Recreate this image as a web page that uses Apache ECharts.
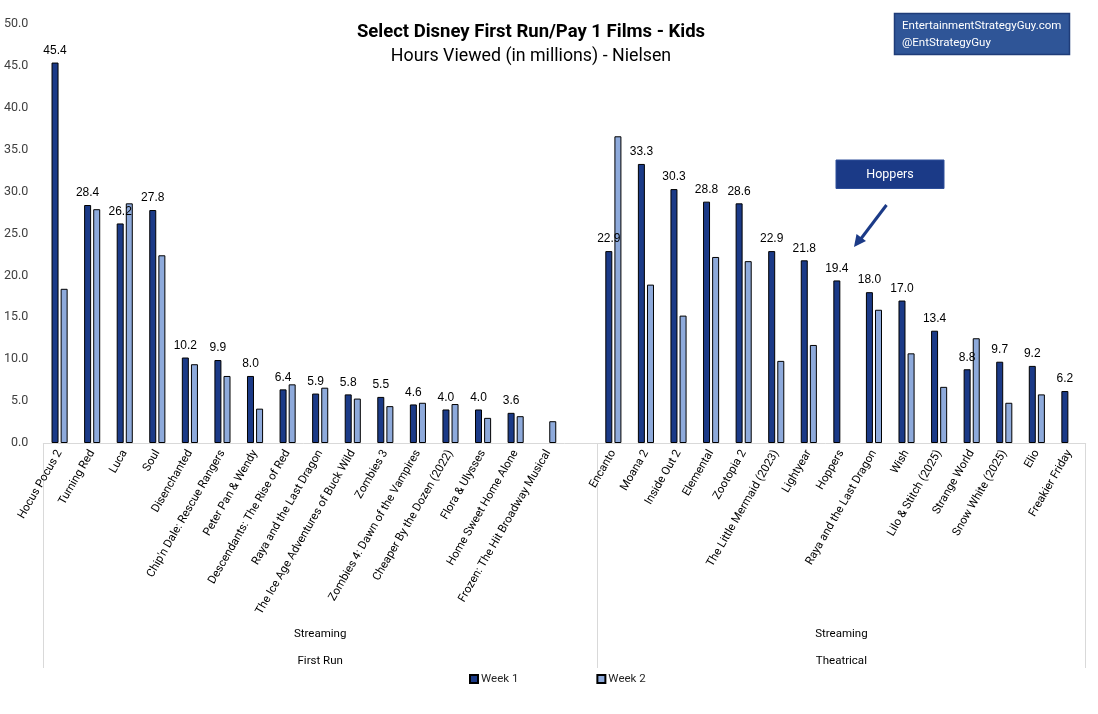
<!DOCTYPE html>
<html>
<head>
<meta charset="utf-8">
<script src="https://cdn.jsdelivr.net/npm/echarts@6/dist/echarts.min.js"></script>
<style>html,body{margin:0;padding:0;background:#fff;}#chart{width:1098px;height:714px;}</style>
</head>
<body>
<div id="chart"></div>
<script>
const categories = [
  'Hocus Pocus 2','Turning Red','Luca','Soul','Disenchanted',"Chip'n Dale: Rescue Rangers",'Peter Pan & Wendy',
  'Descendants: The Rise of Red','Raya and the Last Dragon','The Ice Age Adventures of Buck Wild','Zombies 3',
  'Zombies 4: Dawn of the Vampires','Cheaper By the Dozen (2022)','Flora & Ulysses','Home Sweet Home Alone',
  'Frozen: The Hit Broadway Musical','',
  'Encanto','Moana 2','Inside Out 2','Elemental','Zootopia 2','The Little Mermaid (2023)','Lightyear','Hoppers',
  'Raya and the Last Dragon','Wish','Lilo & Stitch (2025)','Strange World','Snow White (2025)','Elio','Freakier Friday'
];
const week1 = [45.4,28.4,26.2,27.8,10.2,9.9,8.0,6.4,5.9,5.8,5.5,4.6,4.0,4.0,3.6,null,null,
  22.9,33.3,30.3,28.8,28.6,22.9,21.8,19.4,18.0,17.0,13.4,8.8,9.7,9.2,6.2];
const week2 = [18.4,27.9,28.6,22.4,9.4,8.0,4.1,7.0,6.6,5.3,4.4,4.8,4.65,3.0,3.2,2.6,null,
  36.6,18.9,15.2,22.2,21.7,9.8,11.7,null,15.9,10.7,6.7,12.5,4.8,5.8,null];
const seriesNames = ['Week 1','Week 2'];
const groupLabels = ['First Run','Theatrical'];
const subGroupLabel = 'Streaming';
const groupBounds = [0,17,32];
const yTicks = {min:0,max:50,interval:5};
const titleText = 'Select Disney First Run/Pay 1 Films - Kids';
const subtitleText = 'Hours Viewed (in millions) - Nielsen';
const watermark = ['EntertainmentStrategyGuy.com','@EntStrategyGuy'];
const annotationText = 'Hoppers';

const COND = 'Roboto, sans-serif';
const ARIAL = '"Liberation Sans", Arial, sans-serif';
const C1 = '#1b3a87', C2 = '#8eaadb';

const groupCenters = [ (groupBounds[0]+groupBounds[1])/2, (groupBounds[1]+groupBounds[2])/2 ];

const chart = echarts.init(document.getElementById('chart'));
chart.setOption({
  animation:false,
  backgroundColor:'#fff',
  title:[
    {text:titleText,left:526,top:18,textAlign:'center',textStyle:{fontFamily:COND,fontWeight:'bold',fontSize:18.5,color:'#000'}},
    {text:subtitleText,left:526,top:43,textAlign:'center',textStyle:{fontFamily:COND,fontWeight:'normal',fontSize:17.8,color:'#000'}}
  ],
  legend:{
    data:seriesNames,left:464,top:668,itemWidth:8,itemHeight:8,itemGap:78,icon:'rect',
    textStyle:{fontFamily:COND,fontSize:11.5,color:'#262626',padding:[0,0,0,-2]}
  },
  grid:{left:43.3,right:12.3,top:24,bottom:271,containLabel:false},
  xAxis:[
    {type:'category',data:categories,
      axisLine:{lineStyle:{color:'#d9d9d9',width:1}},axisTick:{show:false},
      axisLabel:{interval:0,rotate:60,margin:8,fontFamily:COND,fontSize:11.5,color:'#000'}},
    {type:'value',min:groupBounds[0],max:groupBounds[2],position:'bottom',
      axisLine:{show:false},splitLine:{show:false},
      axisTick:{show:true,customValues:groupBounds,length:225,lineStyle:{color:'#d9d9d9',width:1}},
      axisLabel:{show:true,customValues:groupCenters,margin:178,
        formatter:function(v){const i=groupCenters.indexOf(v);return subGroupLabel+'\n'+(groupLabels[i]||'');},
        fontFamily:COND,fontSize:11.5,color:'#000',lineHeight:27}}
  ],
  yAxis:{type:'value',min:yTicks.min,max:yTicks.max,interval:yTicks.interval,
    axisLine:{show:false},axisTick:{show:false},splitLine:{show:false},
    axisLabel:{formatter:function(v){return v.toFixed(1);},margin:15,fontFamily:COND,fontSize:12.5,color:'#404040'}},
  series:[
    {name:seriesNames[0],type:'bar',xAxisIndex:0,data:week1,barWidth:7,barGap:'30%',
      itemStyle:{color:C1,borderColor:'#000',borderWidth:1},
      label:{show:true,position:'top',distance:6,fontFamily:ARIAL,fontSize:12,color:'#000',
        formatter:function(p){return p.value==null?'':Number(p.value).toFixed(1);}}},
    {name:seriesNames[1],type:'bar',xAxisIndex:0,data:week2,barWidth:7,
      itemStyle:{color:C2,borderColor:'#000',borderWidth:1}}
  ],
  graphic:[
    {type:'rect',shape:{x:894.5,y:13.5,width:175,height:41},style:{fill:'#2f5597',stroke:'#1f3c78',lineWidth:1.5}},
    {type:'text',x:902,y:18,style:{text:watermark.join('\n'),fill:'#fff',fontFamily:COND,fontSize:11.5,lineHeight:17}},
    {type:'rect',shape:{x:836,y:160,width:108,height:28.5},style:{fill:C1,stroke:'#2e4f9a',lineWidth:1}},
    {type:'text',x:890,y:174.5,style:{text:annotationText,fill:'#fff',fontFamily:COND,fontSize:12.5,align:'center',verticalAlign:'middle'}},
    {type:'line',shape:{x1:886.5,y1:205,x2:860,y2:240},style:{stroke:C1,lineWidth:3}},
    {type:'polygon',shape:{points:[[854,247],[856.5,234],[866,241]]},style:{fill:C1}}
  ]
});
</script>
</body>
</html>
